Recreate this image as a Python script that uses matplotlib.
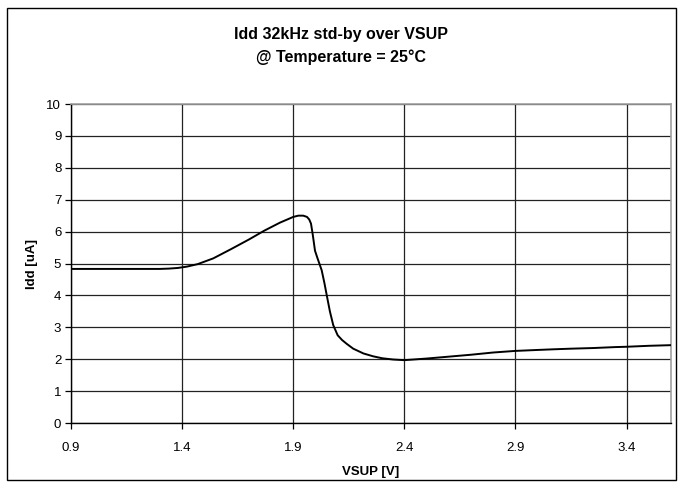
import matplotlib
matplotlib.use("Agg")
import matplotlib.pyplot as plt
from matplotlib.patches import Rectangle

plt.rcParams['font.family'] = ['Liberation Sans', 'DejaVu Sans']

vsup = [0.90, 1.00, 1.10, 1.20, 1.30, 1.34, 1.38, 1.42, 1.47, 1.54, 1.62, 1.70, 1.77,
        1.84, 1.90, 1.923, 1.945, 1.962, 1.972, 1.980, 1.988, 1.998, 2.010, 2.028,
        2.040, 2.051, 2.065, 2.080, 2.10, 2.12, 2.141, 2.17, 2.216, 2.26, 2.30,
        2.35, 2.40, 2.50, 2.60, 2.70, 2.80, 2.90, 3.00, 3.07, 3.15, 3.25, 3.35,
        3.40, 3.50, 3.60]
idd = [4.83, 4.83, 4.83, 4.83, 4.83, 4.84, 4.86, 4.90, 4.98, 5.16, 5.45, 5.75, 6.03,
       6.28, 6.46, 6.50, 6.50, 6.46, 6.38, 6.25, 5.90, 5.40, 5.15, 4.79,
       4.40, 4.00, 3.50, 3.07, 2.75, 2.60, 2.48, 2.33, 2.18, 2.09, 2.03,
       1.99, 1.97, 2.02, 2.08, 2.14, 2.21, 2.26, 2.29, 2.31, 2.33, 2.35, 2.38,
       2.39, 2.42, 2.44]

x_ticks = [0.9, 1.4, 1.9, 2.4, 2.9, 3.4]
y_ticks = [0, 1, 2, 3, 4, 5, 6, 7, 8, 9, 10]

fig = plt.figure(figsize=(6.83, 4.84), dpi=100)
ax = fig.add_axes([71/683, 1 - 423/484, 600/683, 319/484])

ax.plot(vsup, idd, color='black', linewidth=1.4, solid_capstyle='round', zorder=3)

ax.set_xlim(0.9, 3.6)
ax.set_ylim(0, 10)
ax.set_xticks(x_ticks)
ax.set_xticklabels([f"{v:.1f}" for v in x_ticks])
ax.set_yticks(y_ticks)
ax.grid(True, color='#222222', linewidth=0.9)
ax.set_axisbelow(True)
ax.tick_params(axis='both', direction='out', length=4, width=0.9, labelsize=9.5, colors='black', pad=3)
ax.tick_params(axis='x', pad=10)

for side in ['left', 'bottom']:
    ax.spines[side].set_color('black')
    ax.spines[side].set_linewidth(1.0)
for side in ['right', 'top']:
    ax.spines[side].set_color('#a0a0a0')
    ax.spines[side].set_linewidth(1.2)

ax.set_xlabel('VSUP [V]', fontsize=9.5, fontweight='bold', labelpad=8)
ax.set_ylabel('Idd [uA]', fontsize=9.5, fontweight='bold', labelpad=6)

fig.text(0.5, 1 - 35/484, 'Idd 32kHz std-by over VSUP', ha='center', va='center',
         fontsize=11.5, fontweight='bold')
fig.text(0.5, 1 - 57/484, '@ Temperature = 25°C', ha='center', va='center',
         fontsize=11.5, fontweight='bold')

fig.patches.append(Rectangle((7/683, 1 - 480/484), 669/683, 472/484,
                             transform=fig.transFigure, fill=False,
                             edgecolor='black', linewidth=1.0))

fig.savefig('out.png', dpi=100)
